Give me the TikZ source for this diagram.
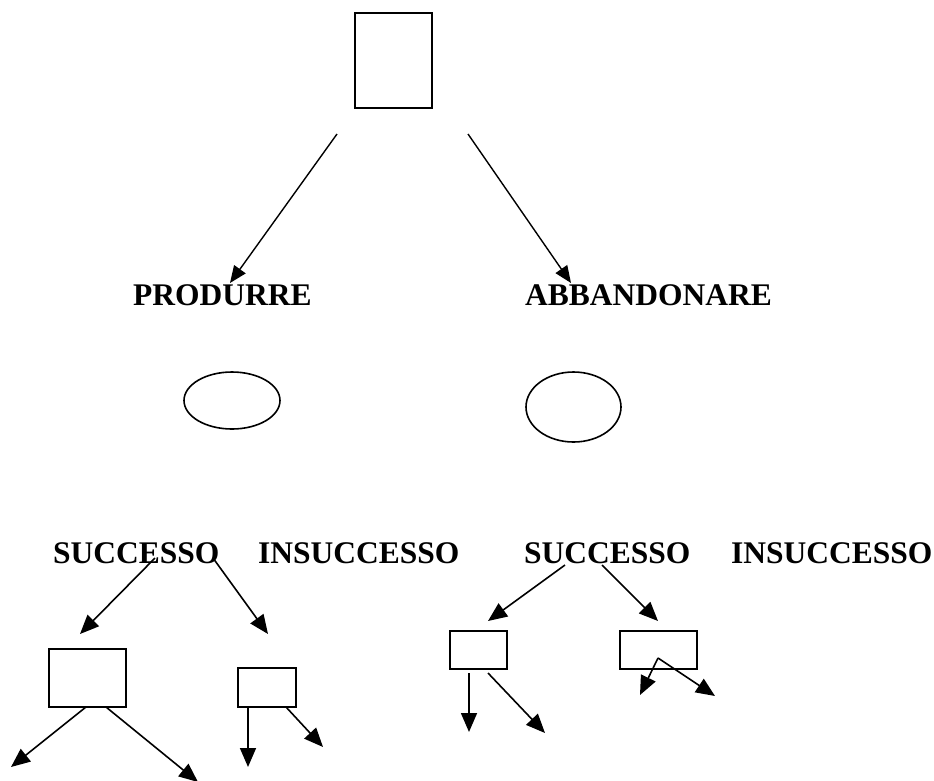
\documentclass[tikz,border=0pt]{standalone}
\usepackage{fontspec}
\setmainfont{Liberation Serif}
\usetikzlibrary{arrows.meta,shapes.geometric}
\begin{document}
\begin{tikzpicture}[x=1pt,y=-1pt,
  box/.style={draw,line width=1.6pt,rectangle,inner sep=0pt},
  oval/.style={draw,line width=1.6pt,ellipse,inner sep=0pt},
  lbl/.style={anchor=base west,inner sep=0pt,font=\fontsize{31.5}{31.5}\selectfont\bfseries},
  arr/.style={line width=1.6pt,-{Triangle[length=19pt,width=16pt]}},
  arrtop/.style={line width=1.4pt,-{Triangle[length=17pt,width=14pt]}}]
\useasboundingbox (0,0) rectangle (934,780);
% boxes
\node[box,minimum width=77pt,minimum height=95pt] (top) at (393.5,60.5) {};
\node[box,minimum width=77pt,minimum height=58pt] (b1) at (87.5,678) {};
\node[box,minimum width=58pt,minimum height=39pt] (b2) at (267,687.5) {};
\node[box,minimum width=57pt,minimum height=38pt] (b3) at (478.5,650) {};
\node[box,minimum width=77pt,minimum height=38pt] (b4) at (658.5,650) {};
% ellipses
\node[oval,minimum width=96pt,minimum height=57pt] (e1) at (232,400.5) {};
\node[oval,minimum width=95pt,minimum height=70pt] (e2) at (573.5,407) {};
% labels
\node[lbl] (prod) at (133,305) {PRODURRE};
\node[lbl] (abb) at (525,305) {ABBANDONARE};
\node[lbl] (s1) at (53,563) {SUCCESSO};
\node[lbl] (i1) at (258,563) {INSUCCESSO};
\node[lbl] (s2) at (524,563) {SUCCESSO};
\node[lbl] (i2) at (731,563) {INSUCCESSO};
% free ends
\coordinate (t1s) at (337,134);  \coordinate (t1e) at (230,283);
\coordinate (t2s) at (468,134);  \coordinate (t2e) at (571,283);
\coordinate (m1s) at (155,558);  \coordinate (m1e) at (80,634);
\coordinate (m2s) at (213,558);  \coordinate (m2e) at (268,634);
\coordinate (m3s) at (565,565);  \coordinate (m3e) at (488,621);
\coordinate (m4s) at (602,565);  \coordinate (m4e) at (658,621);
\coordinate (a1s) at (86,707);   \coordinate (a1e) at (11,767);
\coordinate (a2s) at (106,707);  \coordinate (a2e) at (198,782);
\coordinate (a3s) at (248,707);  \coordinate (a3e) at (248,767);
\coordinate (a4s) at (286,707);  \coordinate (a4e) at (323,747);
\coordinate (a5s) at (469,673);  \coordinate (a5e) at (469,732);
\coordinate (a6s) at (488,673);  \coordinate (a6e) at (545,733);
\coordinate (a7s) at (658,658);  \coordinate (a7e) at (640,695);
\coordinate (a8e) at (715,696);
% arrows
\draw[arrtop] (t1s) -- (t1e);
\draw[arrtop] (t2s) -- (t2e);
\draw[arr] (m1s) -- (m1e);
\draw[arr] (m2s) -- (m2e);
\draw[arr] (m3s) -- (m3e);
\draw[arr] (m4s) -- (m4e);
\draw[arr] (a1s) -- (a1e);
\draw[arr] (a2s) -- (a2e);
\draw[arr] (a3s) -- (a3e);
\draw[arr] (a4s) -- (a4e);
\draw[arr] (a5s) -- (a5e);
\draw[arr] (a6s) -- (a6e);
\draw[arr] (a7s) -- (a7e);
\draw[arr] (a7s) -- (a8e);
\end{tikzpicture}
\end{document}
